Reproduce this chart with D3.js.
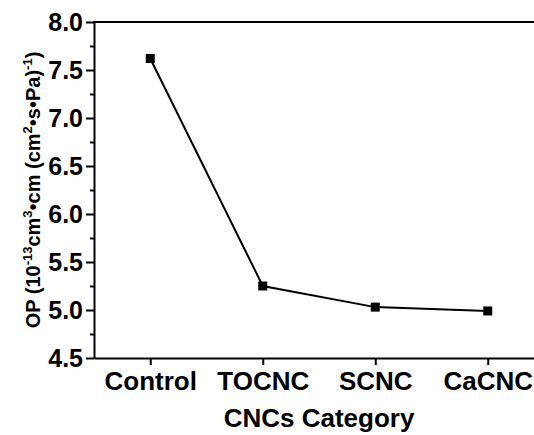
<!DOCTYPE html>
<html>
<head>
<meta charset="utf-8">
<script src="https://cdn.jsdelivr.net/npm/d3@7"></script>
<style>
  html, body { margin: 0; padding: 0; background: #fff; }
  svg { display: block; font-family: "Liberation Sans", Arial, sans-serif; }
</style>
</head>
<body>
<div id="chart"></div>
<script>
// data
const categories = ['Control', 'TOCNC', 'SCNC', 'CaCNC'];
const opValues   = [7.62, 5.25, 5.03, 4.99];
const yTicks     = [4.5, 5.0, 5.5, 6.0, 6.5, 7.0, 7.5, 8.0];

const width = 534, height = 435;
const margin = { top: 22, left: 94, bottom: 77 };

const svg = d3.select('#chart').append('svg')
  .attr('width', width)
  .attr('height', height);

// ------------------------------------------------------------------ SCALES
const x = d3.scaleLinear()
  .domain([0.5, 4.5])
  .range([margin.left, 544]);

const y = d3.scaleLinear()
  .domain([4.5, 8.0])
  .range([height - margin.bottom, margin.top]);

// ------------------------------------------------------------------ AXES
const yAxis = svg.append('g')
  .attr('transform', `translate(${margin.left},0)`)
  .call(d3.axisLeft(y).tickValues(yTicks).tickFormat(d3.format('.1f')).tickSize(8).tickPadding(3).tickSizeOuter(0));

// minor ticks
svg.append('g')
  .attr('transform', `translate(${margin.left},0)`)
  .call(d3.axisLeft(y).tickValues(d3.range(4.75, 8, 0.5)).tickSize(4).tickFormat(''))
  .call(g => g.select('.domain').remove());

const xAxis = svg.append('g')
  .attr('transform', `translate(0,${height - margin.bottom})`)
  .call(d3.axisBottom(x).tickValues([1, 2, 3, 4]).tickFormat((d, i) => categories[i]).tickSize(7).tickPadding(7).tickSizeOuter(0));

svg.selectAll('.domain').attr('stroke', '#000').attr('stroke-width', 2);
svg.selectAll('.tick line').attr('stroke', '#000').attr('stroke-width', 2);
yAxis.selectAll('.tick text').attr('font-size', 25).attr('font-weight', 'bold').attr('fill', '#000');
xAxis.selectAll('.tick text').attr('font-size', 26).attr('font-weight', 'bold').attr('fill', '#000');

// top frame line
svg.append('line')
  .attr('x1', margin.left - 1).attr('x2', width)
  .attr('y1', y(8)).attr('y2', y(8))
  .attr('stroke', '#000').attr('stroke-width', 2);

// ------------------------------------------------------------------ LINE + MARKERS
const pts = opValues.map((v, i) => ({ x: i + 1, v }));

svg.append('path')
  .datum(pts)
  .attr('fill', 'none')
  .attr('stroke', '#000')
  .attr('stroke-width', 2)
  .attr('d', d3.line().x(d => x(d.x)).y(d => y(d.v)));

svg.append('g')
  .selectAll('rect')
  .data(pts)
  .join('rect')
  .attr('x', d => x(d.x) - 4.5)
  .attr('y', d => y(d.v) - 4.5)
  .attr('width', 9)
  .attr('height', 9)
  .attr('fill', '#000');

// ------------------------------------------------------------------ TITLES
svg.append('text')
  .attr('x', 319)
  .attr('y', 427)
  .attr('text-anchor', 'middle')
  .attr('font-size', 26)
  .attr('font-weight', 'bold')
  .text('CNCs Category');

const yt = svg.append('text')
  .attr('transform', `translate(40,${(y(4.5) + y(8)) / 2}) rotate(-90)`)
  .attr('text-anchor', 'middle')
  .attr('font-size', 20)
  .attr('font-weight', 'bold');
yt.append('tspan').text('OP (10');
yt.append('tspan').attr('dy', -8).attr('font-size', 13).text('-13');
yt.append('tspan').attr('dy', 8).text('cm');
yt.append('tspan').attr('dy', -8).attr('font-size', 13).text('3');
yt.append('tspan').attr('dy', 8).text('\u2022cm (cm');
yt.append('tspan').attr('dy', -8).attr('font-size', 13).text('2');
yt.append('tspan').attr('dy', 8).text('\u2022s\u2022Pa)');
yt.append('tspan').attr('dy', -8).attr('font-size', 13).text('-1');
yt.append('tspan').attr('dy', 8).text(')');
</script>
</body>
</html>
